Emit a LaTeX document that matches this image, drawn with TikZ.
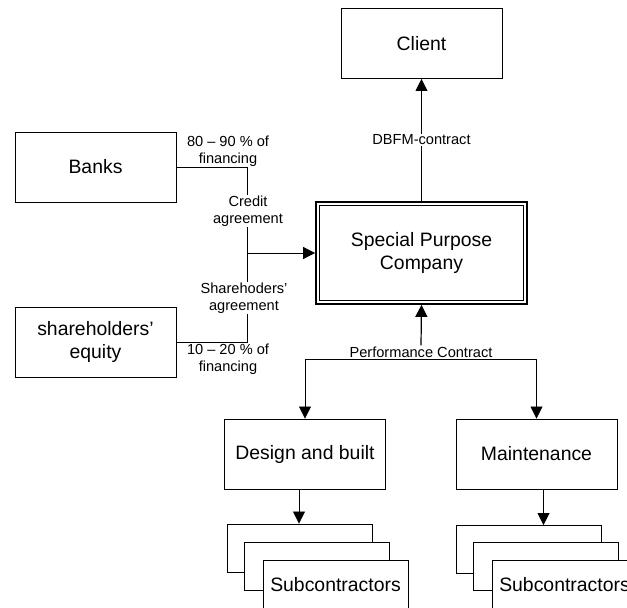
\documentclass[tikz,border=0pt]{standalone}
\usepackage{fontspec}
\setmainfont{Liberation Sans}
\usetikzlibrary{arrows.meta,calc}
\begin{document}
\begin{tikzpicture}[x=1pt,y=-1pt,
  box/.style={draw,line width=0.9pt,minimum width=161pt,minimum height=70pt,inner sep=0pt,
    font=\fontsize{19.4}{23}\selectfont,align=center},
  subbox/.style={draw,fill=white,line width=0.9pt,minimum width=145pt,minimum height=48pt,inner sep=0pt,
    font=\fontsize{19.4}{23}\selectfont},
  lbl/.style={fill=white,inner sep=1pt,font=\fontsize{14.6}{16.5}\selectfont,align=center},
  link/.style={line width=0.8pt},
  arr/.style={link,-{Triangle[length=12pt,width=12pt]}},
]
\useasboundingbox (0,0) rectangle (627,608);
\clip (0,0) rectangle (627,608);

% main boxes
\node[box] (client) at (421.5,43.5) {Client};
\node[box] (banks) at (95.5,167) {Banks};
\node[box] (equity) at (95.5,342) {shareholders'\\equity};
\node[box,line width=1.8pt,minimum width=211pt,minimum height=102pt] (spc) at (421.5,253)
  {Special Purpose\\Company};
\draw[line width=1pt] ([shift={(4,4)}]spc.north west) rectangle ([shift={(-4,-4)}]spc.south east);
\node[box] (design) at (305,454) {Design and built};
\node[box] (maint) at (536.5,454) {Maintenance};

% subcontractor stacks
\node[subbox] (sA1) at (299.5,548) {};
\node[subbox] (sA2) at (317,566.5) {};
\node[subbox,minimum height=49pt] (sA3) at (335.5,584.5) {Subcontractors};
\node[subbox] (sB1) at (528.5,549.5) {};
\node[subbox] (sB2) at (545.5,566.5) {};
\node[subbox,minimum height=49pt] (sB3) at (564.5,584.5) {Subcontractors};

% financing connectors
\coordinate (jb) at (247,167);
\coordinate (je) at (247,342);
\coordinate (jm) at (247,253);
\draw[link] (banks.east) -- (jb) -- (je) -- (equity.east);
\draw[arr] (jm) -- (spc.west);
\node[lbl,fill=none] (fin1) at (228,151) {80 – 90 \% of\\financing};
\node[lbl] (credit) at (248,211) {Credit\\agreement};
\node[lbl] (share) at (244,298) {Sharehoders'\\agreement};
\node[lbl,fill=none] (fin2) at (228,359) {10 – 20 \% of\\financing};

% DBFM contract
\draw[arr] (spc.north) -- (client.south);
\node[lbl] (dbfm) at (421.5,140) {DBFM-contract};

% performance contract
\coordinate (pcj) at (421,359);
\draw[arr] (pcj) -| (design.north);
\draw[arr] (pcj) -| (maint.north);
\node[lbl] (pc) at (421,352) {Performance Contract};
\draw[arr,line width=1.2pt] (pc.north) -- (spc.south);

% down to subcontractors
\draw[arr] ([xshift=-6pt]design.south) -- ([xshift=-6pt]design.south |- sA1.north);
\draw[arr] ([xshift=7pt]maint.south) -- ([xshift=7pt]maint.south |- sB1.north);
\end{tikzpicture}
\end{document}
